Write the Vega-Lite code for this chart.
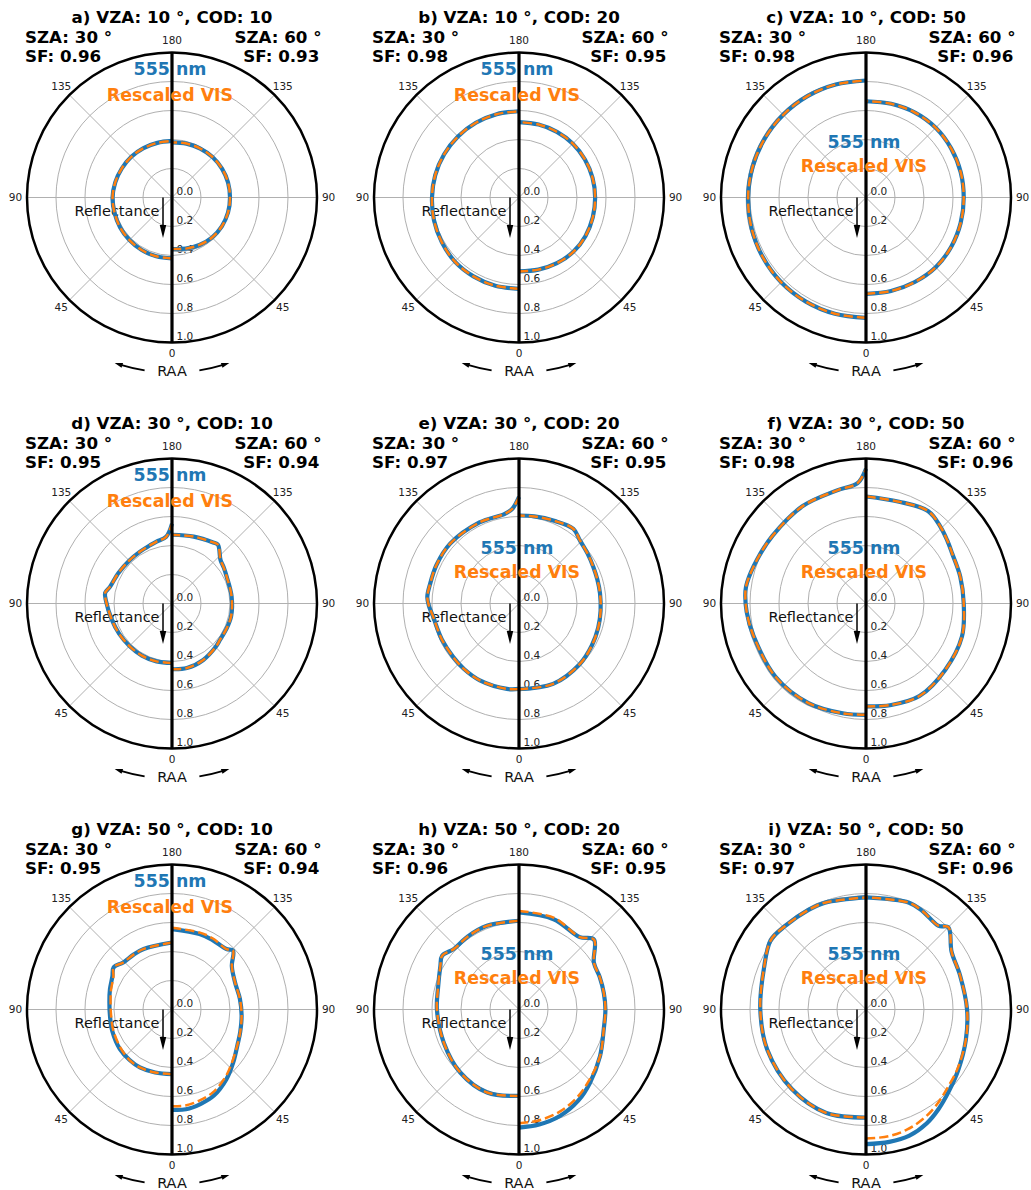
{
"$schema":"https://vega.github.io/schema/vega-lite/v6.json",
"padding":0,
"bounds":"flush",
"config":{"view":{"stroke":null},"font":"DejaVu Sans"},
"datasets":{"deco":[
{"k":"ring","r":0.2},{"k":"ring","r":0.4},{"k":"ring","r":0.6},{"k":"ring","r":0.8},
{"k":"frame","r":1},
{"k":"sp","a":45},{"k":"sp","a":90},{"k":"sp","a":135},
{"k":"al","s":1,"a":0},{"k":"al","s":-1,"a":45},{"k":"al","s":1,"a":45},{"k":"al","s":-1,"a":90},{"k":"al","s":1,"a":90},{"k":"al","s":-1,"a":135},{"k":"al","s":1,"a":135},{"k":"al","s":1,"a":180},
{"k":"rl","r":0},{"k":"rl","r":0.2},{"k":"rl","r":0.4},{"k":"rl","r":0.6},{"k":"rl","r":0.8},{"k":"rl","r":1},
{"k":"rh","s":-1},{"k":"rh","s":1}
]},
"data":{"values":[
{"p":"a","t":"a) VZA: 10 °, COD: 10","f1":"SF: 0.96","f2":"SF: 0.93","lg":"top"},
{"p":"b","t":"b) VZA: 10 °, COD: 20","f1":"SF: 0.98","f2":"SF: 0.95","lg":"top"},
{"p":"c","t":"c) VZA: 10 °, COD: 50","f1":"SF: 0.98","f2":"SF: 0.96","lg":"mid"},
{"p":"d","t":"d) VZA: 30 °, COD: 10","f1":"SF: 0.95","f2":"SF: 0.94","lg":"top"},
{"p":"e","t":"e) VZA: 30 °, COD: 20","f1":"SF: 0.97","f2":"SF: 0.95","lg":"mid"},
{"p":"f","t":"f) VZA: 30 °, COD: 50","f1":"SF: 0.98","f2":"SF: 0.96","lg":"mid"},
{"p":"g","t":"g) VZA: 50 °, COD: 10","f1":"SF: 0.95","f2":"SF: 0.94","lg":"top"},
{"p":"h","t":"h) VZA: 50 °, COD: 20","f1":"SF: 0.96","f2":"SF: 0.95","lg":"mid"},
{"p":"i","t":"i) VZA: 50 °, COD: 50","f1":"SF: 0.97","f2":"SF: 0.96","lg":"mid"},

{"p":"a","s":-1,"a":0,"b":0.42,"o":0.42,"g":0.424},
{"p":"a","s":-1,"a":15,"b":0.42,"o":0.42,"g":0.424},
{"p":"a","s":-1,"a":30,"b":0.418,"o":0.418,"g":0.422},
{"p":"a","s":-1,"a":45,"b":0.415,"o":0.415,"g":0.419},
{"p":"a","s":-1,"a":60,"b":0.413,"o":0.413,"g":0.417},
{"p":"a","s":-1,"a":75,"b":0.41,"o":0.41,"g":0.414},
{"p":"a","s":-1,"a":90,"b":0.41,"o":0.41,"g":0.414},
{"p":"a","s":-1,"a":105,"b":0.405,"o":0.405,"g":0.409},
{"p":"a","s":-1,"a":120,"b":0.4,"o":0.4,"g":0.404},
{"p":"a","s":-1,"a":135,"b":0.397,"o":0.397,"g":0.401},
{"p":"a","s":-1,"a":150,"b":0.393,"o":0.393,"g":0.397},
{"p":"a","s":-1,"a":165,"b":0.39,"o":0.39,"g":0.394},
{"p":"a","s":-1,"a":180,"b":0.39,"o":0.39,"g":0.394},
{"p":"a","s":1,"a":0,"b":0.355,"o":0.355,"g":0.37},
{"p":"a","s":1,"a":15,"b":0.365,"o":0.365,"g":0.38},
{"p":"a","s":1,"a":30,"b":0.378,"o":0.378,"g":0.392},
{"p":"a","s":1,"a":45,"b":0.39,"o":0.39,"g":0.402},
{"p":"a","s":1,"a":60,"b":0.397,"o":0.397,"g":0.401},
{"p":"a","s":1,"a":75,"b":0.4,"o":0.4,"g":0.404},
{"p":"a","s":1,"a":90,"b":0.4,"o":0.4,"g":0.404},
{"p":"a","s":1,"a":105,"b":0.4,"o":0.4,"g":0.404},
{"p":"a","s":1,"a":120,"b":0.398,"o":0.398,"g":0.402},
{"p":"a","s":1,"a":135,"b":0.395,"o":0.395,"g":0.399},
{"p":"a","s":1,"a":150,"b":0.39,"o":0.39,"g":0.394},
{"p":"a","s":1,"a":165,"b":0.385,"o":0.385,"g":0.389},
{"p":"a","s":1,"a":180,"b":0.38,"o":0.38,"g":0.384},

{"p":"b","s":-1,"a":0,"b":0.63,"o":0.63,"g":0.634},
{"p":"b","s":-1,"a":15,"b":0.63,"o":0.63,"g":0.634},
{"p":"b","s":-1,"a":30,"b":0.628,"o":0.628,"g":0.632},
{"p":"b","s":-1,"a":45,"b":0.625,"o":0.625,"g":0.629},
{"p":"b","s":-1,"a":60,"b":0.615,"o":0.615,"g":0.619},
{"p":"b","s":-1,"a":75,"b":0.607,"o":0.607,"g":0.611},
{"p":"b","s":-1,"a":90,"b":0.6,"o":0.6,"g":0.604},
{"p":"b","s":-1,"a":105,"b":0.598,"o":0.598,"g":0.602},
{"p":"b","s":-1,"a":120,"b":0.596,"o":0.596,"g":0.6},
{"p":"b","s":-1,"a":135,"b":0.595,"o":0.595,"g":0.599},
{"p":"b","s":-1,"a":150,"b":0.595,"o":0.595,"g":0.599},
{"p":"b","s":-1,"a":165,"b":0.595,"o":0.595,"g":0.599},
{"p":"b","s":-1,"a":180,"b":0.595,"o":0.595,"g":0.599},
{"p":"b","s":1,"a":0,"b":0.51,"o":0.51,"g":0.514},
{"p":"b","s":1,"a":15,"b":0.515,"o":0.515,"g":0.519},
{"p":"b","s":1,"a":30,"b":0.523,"o":0.523,"g":0.527},
{"p":"b","s":1,"a":45,"b":0.53,"o":0.53,"g":0.534},
{"p":"b","s":1,"a":60,"b":0.53,"o":0.53,"g":0.534},
{"p":"b","s":1,"a":75,"b":0.527,"o":0.527,"g":0.531},
{"p":"b","s":1,"a":90,"b":0.525,"o":0.525,"g":0.529},
{"p":"b","s":1,"a":105,"b":0.525,"o":0.525,"g":0.529},
{"p":"b","s":1,"a":120,"b":0.525,"o":0.525,"g":0.529},
{"p":"b","s":1,"a":135,"b":0.525,"o":0.525,"g":0.529},
{"p":"b","s":1,"a":150,"b":0.523,"o":0.523,"g":0.527},
{"p":"b","s":1,"a":165,"b":0.521,"o":0.521,"g":0.525},
{"p":"b","s":1,"a":180,"b":0.52,"o":0.52,"g":0.524},

{"p":"c","s":-1,"a":0,"b":0.83,"o":0.83,"g":0.834},
{"p":"c","s":-1,"a":15,"b":0.83,"o":0.83,"g":0.834},
{"p":"c","s":-1,"a":30,"b":0.829,"o":0.829,"g":0.833},
{"p":"c","s":-1,"a":45,"b":0.827,"o":0.827,"g":0.831},
{"p":"c","s":-1,"a":60,"b":0.822,"o":0.822,"g":0.826},
{"p":"c","s":-1,"a":75,"b":0.817,"o":0.817,"g":0.829},
{"p":"c","s":-1,"a":90,"b":0.813,"o":0.813,"g":0.825},
{"p":"c","s":-1,"a":105,"b":0.81,"o":0.81,"g":0.822},
{"p":"c","s":-1,"a":120,"b":0.808,"o":0.808,"g":0.82},
{"p":"c","s":-1,"a":135,"b":0.807,"o":0.807,"g":0.819},
{"p":"c","s":-1,"a":150,"b":0.807,"o":0.807,"g":0.819},
{"p":"c","s":-1,"a":165,"b":0.807,"o":0.807,"g":0.811},
{"p":"c","s":-1,"a":180,"b":0.807,"o":0.807,"g":0.811},
{"p":"c","s":1,"a":0,"b":0.664,"o":0.664,"g":0.668},
{"p":"c","s":1,"a":15,"b":0.667,"o":0.667,"g":0.671},
{"p":"c","s":1,"a":30,"b":0.673,"o":0.673,"g":0.677},
{"p":"c","s":1,"a":45,"b":0.68,"o":0.68,"g":0.684},
{"p":"c","s":1,"a":60,"b":0.679,"o":0.679,"g":0.683},
{"p":"c","s":1,"a":75,"b":0.676,"o":0.676,"g":0.68},
{"p":"c","s":1,"a":90,"b":0.674,"o":0.674,"g":0.678},
{"p":"c","s":1,"a":105,"b":0.676,"o":0.676,"g":0.68},
{"p":"c","s":1,"a":120,"b":0.678,"o":0.678,"g":0.682},
{"p":"c","s":1,"a":135,"b":0.68,"o":0.68,"g":0.684},
{"p":"c","s":1,"a":150,"b":0.676,"o":0.676,"g":0.68},
{"p":"c","s":1,"a":165,"b":0.669,"o":0.669,"g":0.673},
{"p":"c","s":1,"a":180,"b":0.664,"o":0.664,"g":0.668},

{"p":"d","s":-1,"a":0,"b":0.41,"o":0.41,"g":0.414},
{"p":"d","s":-1,"a":15,"b":0.413,"o":0.413,"g":0.417},
{"p":"d","s":-1,"a":30,"b":0.415,"o":0.415,"g":0.419},
{"p":"d","s":-1,"a":45,"b":0.415,"o":0.415,"g":0.419},
{"p":"d","s":-1,"a":60,"b":0.42,"o":0.42,"g":0.424},
{"p":"d","s":-1,"a":75,"b":0.43,"o":0.43,"g":0.434},
{"p":"d","s":-1,"a":92,"b":0.455,"o":0.455,"g":0.459},
{"p":"d","s":-1,"a":99,"b":0.467,"o":0.467,"g":0.471},
{"p":"d","s":-1,"a":105,"b":0.443,"o":0.443,"g":0.447},
{"p":"d","s":-1,"a":120,"b":0.425,"o":0.425,"g":0.429},
{"p":"d","s":-1,"a":135,"b":0.418,"o":0.418,"g":0.422},
{"p":"d","s":-1,"a":148,"b":0.42,"o":0.42,"g":0.424},
{"p":"d","s":-1,"a":160,"b":0.43,"o":0.43,"g":0.434},
{"p":"d","s":-1,"a":166,"b":0.44,"o":0.44,"g":0.444},
{"p":"d","s":-1,"a":175,"b":0.462,"o":0.462,"g":0.466},
{"p":"d","s":-1,"a":180,"b":0.55,"o":0.55,"g":0.554},
{"p":"d","s":1,"a":0,"b":0.453,"o":0.453,"g":0.457},
{"p":"d","s":1,"a":13,"b":0.457,"o":0.457,"g":0.461},
{"p":"d","s":1,"a":29,"b":0.445,"o":0.445,"g":0.449},
{"p":"d","s":1,"a":45,"b":0.425,"o":0.425,"g":0.429},
{"p":"d","s":1,"a":53,"b":0.415,"o":0.415,"g":0.419},
{"p":"d","s":1,"a":65,"b":0.414,"o":0.414,"g":0.418},
{"p":"d","s":1,"a":78,"b":0.417,"o":0.417,"g":0.421},
{"p":"d","s":1,"a":97,"b":0.414,"o":0.414,"g":0.418},
{"p":"d","s":1,"a":116,"b":0.42,"o":0.42,"g":0.424},
{"p":"d","s":1,"a":125,"b":0.435,"o":0.435,"g":0.439},
{"p":"d","s":1,"a":132,"b":0.45,"o":0.45,"g":0.454},
{"p":"d","s":1,"a":142,"b":0.515,"o":0.515,"g":0.519},
{"p":"d","s":1,"a":146,"b":0.508,"o":0.508,"g":0.512},
{"p":"d","s":1,"a":162,"b":0.485,"o":0.485,"g":0.489},
{"p":"d","s":1,"a":180,"b":0.474,"o":0.474,"g":0.478},

{"p":"e","s":-1,"a":0,"b":0.589,"o":0.589,"g":0.593},
{"p":"e","s":-1,"a":8,"b":0.595,"o":0.595,"g":0.599},
{"p":"e","s":-1,"a":27,"b":0.595,"o":0.595,"g":0.599},
{"p":"e","s":-1,"a":40,"b":0.59,"o":0.59,"g":0.594},
{"p":"e","s":-1,"a":51,"b":0.585,"o":0.585,"g":0.589},
{"p":"e","s":-1,"a":65,"b":0.587,"o":0.587,"g":0.591},
{"p":"e","s":-1,"a":74,"b":0.59,"o":0.59,"g":0.594},
{"p":"e","s":-1,"a":81,"b":0.598,"o":0.598,"g":0.602},
{"p":"e","s":-1,"a":88,"b":0.62,"o":0.62,"g":0.624},
{"p":"e","s":-1,"a":94,"b":0.634,"o":0.634,"g":0.638},
{"p":"e","s":-1,"a":102,"b":0.628,"o":0.628,"g":0.632},
{"p":"e","s":-1,"a":115,"b":0.628,"o":0.628,"g":0.632},
{"p":"e","s":-1,"a":131,"b":0.629,"o":0.629,"g":0.633},
{"p":"e","s":-1,"a":154,"b":0.622,"o":0.622,"g":0.626},
{"p":"e","s":-1,"a":171,"b":0.626,"o":0.626,"g":0.63},
{"p":"e","s":-1,"a":176,"b":0.655,"o":0.655,"g":0.659},
{"p":"e","s":-1,"a":180,"b":0.735,"o":0.735,"g":0.739},
{"p":"e","s":1,"a":0,"b":0.591,"o":0.591,"g":0.595},
{"p":"e","s":1,"a":23,"b":0.602,"o":0.602,"g":0.606},
{"p":"e","s":1,"a":45,"b":0.592,"o":0.592,"g":0.596},
{"p":"e","s":1,"a":60,"b":0.58,"o":0.58,"g":0.584},
{"p":"e","s":1,"a":73,"b":0.571,"o":0.571,"g":0.575},
{"p":"e","s":1,"a":85,"b":0.565,"o":0.565,"g":0.569},
{"p":"e","s":1,"a":97,"b":0.563,"o":0.563,"g":0.567},
{"p":"e","s":1,"a":107,"b":0.565,"o":0.565,"g":0.569},
{"p":"e","s":1,"a":116,"b":0.571,"o":0.571,"g":0.575},
{"p":"e","s":1,"a":126,"b":0.585,"o":0.585,"g":0.589},
{"p":"e","s":1,"a":136,"b":0.605,"o":0.605,"g":0.609},
{"p":"e","s":1,"a":144,"b":0.637,"o":0.637,"g":0.641},
{"p":"e","s":1,"a":157,"b":0.62,"o":0.62,"g":0.624},
{"p":"e","s":1,"a":170,"b":0.61,"o":0.61,"g":0.614},
{"p":"e","s":1,"a":180,"b":0.607,"o":0.607,"g":0.611},

{"p":"f","s":-1,"a":0,"b":0.768,"o":0.768,"g":0.772},
{"p":"f","s":-1,"a":12,"b":0.774,"o":0.774,"g":0.778},
{"p":"f","s":-1,"a":30,"b":0.793,"o":0.793,"g":0.808},
{"p":"f","s":-1,"a":51,"b":0.803,"o":0.803,"g":0.818},
{"p":"f","s":-1,"a":74,"b":0.807,"o":0.807,"g":0.82},
{"p":"f","s":-1,"a":86,"b":0.825,"o":0.825,"g":0.829},
{"p":"f","s":-1,"a":96,"b":0.836,"o":0.836,"g":0.84},
{"p":"f","s":-1,"a":100,"b":0.833,"o":0.833,"g":0.837},
{"p":"f","s":-1,"a":112,"b":0.81,"o":0.81,"g":0.814},
{"p":"f","s":-1,"a":126,"b":0.796,"o":0.796,"g":0.8},
{"p":"f","s":-1,"a":147,"b":0.801,"o":0.801,"g":0.805},
{"p":"f","s":-1,"a":166,"b":0.806,"o":0.806,"g":0.81},
{"p":"f","s":-1,"a":176,"b":0.832,"o":0.832,"g":0.836},
{"p":"f","s":-1,"a":180,"b":0.93,"o":0.93,"g":0.934},
{"p":"f","s":1,"a":0,"b":0.71,"o":0.71,"g":0.714},
{"p":"f","s":1,"a":14,"b":0.721,"o":0.721,"g":0.725},
{"p":"f","s":1,"a":30,"b":0.737,"o":0.737,"g":0.741},
{"p":"f","s":1,"a":50,"b":0.713,"o":0.713,"g":0.717},
{"p":"f","s":1,"a":71,"b":0.7,"o":0.7,"g":0.704},
{"p":"f","s":1,"a":90,"b":0.674,"o":0.674,"g":0.678},
{"p":"f","s":1,"a":106,"b":0.676,"o":0.676,"g":0.68},
{"p":"f","s":1,"a":120,"b":0.687,"o":0.687,"g":0.691},
{"p":"f","s":1,"a":128,"b":0.71,"o":0.71,"g":0.714},
{"p":"f","s":1,"a":136,"b":0.738,"o":0.738,"g":0.742},
{"p":"f","s":1,"a":146,"b":0.768,"o":0.768,"g":0.772},
{"p":"f","s":1,"a":162,"b":0.738,"o":0.738,"g":0.742},
{"p":"f","s":1,"a":180,"b":0.738,"o":0.738,"g":0.742},

{"p":"g","s":-1,"a":0,"b":0.446,"o":0.446,"g":0.45},
{"p":"g","s":-1,"a":15,"b":0.45,"o":0.45,"g":0.454},
{"p":"g","s":-1,"a":29,"b":0.457,"o":0.457,"g":0.461},
{"p":"g","s":-1,"a":40,"b":0.455,"o":0.455,"g":0.459},
{"p":"g","s":-1,"a":53,"b":0.451,"o":0.443,"g":0.455},
{"p":"g","s":-1,"a":70,"b":0.438,"o":0.43,"g":0.442},
{"p":"g","s":-1,"a":84,"b":0.43,"o":0.422,"g":0.434},
{"p":"g","s":-1,"a":97,"b":0.435,"o":0.427,"g":0.439},
{"p":"g","s":-1,"a":108,"b":0.45,"o":0.442,"g":0.454},
{"p":"g","s":-1,"a":119,"b":0.47,"o":0.462,"g":0.474},
{"p":"g","s":-1,"a":126,"b":0.497,"o":0.497,"g":0.501},
{"p":"g","s":-1,"a":134,"b":0.467,"o":0.467,"g":0.471},
{"p":"g","s":-1,"a":145,"b":0.462,"o":0.462,"g":0.466},
{"p":"g","s":-1,"a":155,"b":0.461,"o":0.461,"g":0.465},
{"p":"g","s":-1,"a":180,"b":0.462,"o":0.462,"g":0.466},
{"p":"g","s":1,"a":0,"b":0.692,"o":0.667,"g":0.696},
{"p":"g","s":1,"a":8,"b":0.695,"o":0.668,"g":0.699},
{"p":"g","s":1,"a":17,"b":0.68,"o":0.655,"g":0.684},
{"p":"g","s":1,"a":26,"b":0.66,"o":0.638,"g":0.664},
{"p":"g","s":1,"a":38,"b":0.61,"o":0.595,"g":0.614},
{"p":"g","s":1,"a":49,"b":0.559,"o":0.55,"g":0.563},
{"p":"g","s":1,"a":63,"b":0.51,"o":0.51,"g":0.514},
{"p":"g","s":1,"a":72,"b":0.495,"o":0.495,"g":0.499},
{"p":"g","s":1,"a":85,"b":0.482,"o":0.482,"g":0.486},
{"p":"g","s":1,"a":99,"b":0.474,"o":0.474,"g":0.478},
{"p":"g","s":1,"a":113,"b":0.473,"o":0.473,"g":0.477},
{"p":"g","s":1,"a":126,"b":0.51,"o":0.51,"g":0.514},
{"p":"g","s":1,"a":134,"b":0.585,"o":0.585,"g":0.589},
{"p":"g","s":1,"a":138,"b":0.561,"o":0.561,"g":0.565},
{"p":"g","s":1,"a":150,"b":0.555,"o":0.565,"g":0.559},
{"p":"g","s":1,"a":160,"b":0.554,"o":0.564,"g":0.558},
{"p":"g","s":1,"a":180,"b":0.554,"o":0.564,"g":0.558},

{"p":"h","s":-1,"a":0,"b":0.596,"o":0.596,"g":0.6},
{"p":"h","s":-1,"a":21,"b":0.613,"o":0.613,"g":0.617},
{"p":"h","s":-1,"a":43,"b":0.594,"o":0.594,"g":0.598},
{"p":"h","s":-1,"a":66,"b":0.567,"o":0.567,"g":0.571},
{"p":"h","s":-1,"a":90,"b":0.566,"o":0.566,"g":0.57},
{"p":"h","s":-1,"a":105,"b":0.578,"o":0.578,"g":0.582},
{"p":"h","s":-1,"a":119,"b":0.62,"o":0.62,"g":0.624},
{"p":"h","s":-1,"a":125,"b":0.647,"o":0.647,"g":0.651},
{"p":"h","s":-1,"a":133,"b":0.613,"o":0.613,"g":0.617},
{"p":"h","s":-1,"a":145,"b":0.615,"o":0.615,"g":0.619},
{"p":"h","s":-1,"a":159,"b":0.618,"o":0.618,"g":0.622},
{"p":"h","s":-1,"a":180,"b":0.612,"o":0.612,"g":0.616},
{"p":"h","s":1,"a":0,"b":0.814,"o":0.785,"g":0.818},
{"p":"h","s":1,"a":10,"b":0.805,"o":0.777,"g":0.809},
{"p":"h","s":1,"a":21,"b":0.787,"o":0.76,"g":0.791},
{"p":"h","s":1,"a":33,"b":0.75,"o":0.728,"g":0.754},
{"p":"h","s":1,"a":44,"b":0.704,"o":0.69,"g":0.708},
{"p":"h","s":1,"a":60,"b":0.645,"o":0.645,"g":0.649},
{"p":"h","s":1,"a":77,"b":0.6,"o":0.6,"g":0.604},
{"p":"h","s":1,"a":90,"b":0.596,"o":0.596,"g":0.6},
{"p":"h","s":1,"a":101,"b":0.596,"o":0.596,"g":0.6},
{"p":"h","s":1,"a":112,"b":0.6,"o":0.6,"g":0.604},
{"p":"h","s":1,"a":122,"b":0.609,"o":0.609,"g":0.613},
{"p":"h","s":1,"a":133,"b":0.707,"o":0.707,"g":0.711},
{"p":"h","s":1,"a":140,"b":0.652,"o":0.652,"g":0.656},
{"p":"h","s":1,"a":159,"b":0.667,"o":0.677,"g":0.671},
{"p":"h","s":1,"a":180,"b":0.669,"o":0.68,"g":0.673},

{"p":"i","s":-1,"a":0,"b":0.745,"o":0.745,"g":0.749},
{"p":"i","s":-1,"a":21,"b":0.764,"o":0.764,"g":0.768},
{"p":"i","s":-1,"a":43,"b":0.75,"o":0.75,"g":0.754},
{"p":"i","s":-1,"a":68,"b":0.735,"o":0.735,"g":0.739},
{"p":"i","s":-1,"a":90,"b":0.729,"o":0.729,"g":0.733},
{"p":"i","s":-1,"a":112,"b":0.759,"o":0.759,"g":0.763},
{"p":"i","s":-1,"a":126,"b":0.812,"o":0.812,"g":0.824},
{"p":"i","s":-1,"a":136,"b":0.801,"o":0.801,"g":0.813},
{"p":"i","s":-1,"a":150,"b":0.793,"o":0.793,"g":0.805},
{"p":"i","s":-1,"a":159,"b":0.789,"o":0.789,"g":0.801},
{"p":"i","s":-1,"a":180,"b":0.773,"o":0.773,"g":0.785},
{"p":"i","s":1,"a":0,"b":0.929,"o":0.89,"g":0.933},
{"p":"i","s":1,"a":10,"b":0.927,"o":0.888,"g":0.931},
{"p":"i","s":1,"a":19,"b":0.92,"o":0.875,"g":0.924},
{"p":"i","s":1,"a":28,"b":0.89,"o":0.85,"g":0.894},
{"p":"i","s":1,"a":36,"b":0.85,"o":0.82,"g":0.854},
{"p":"i","s":1,"a":46,"b":0.8,"o":0.78,"g":0.804},
{"p":"i","s":1,"a":57,"b":0.76,"o":0.752,"g":0.764},
{"p":"i","s":1,"a":73,"b":0.72,"o":0.72,"g":0.724},
{"p":"i","s":1,"a":90,"b":0.697,"o":0.697,"g":0.701},
{"p":"i","s":1,"a":110,"b":0.69,"o":0.69,"g":0.694},
{"p":"i","s":1,"a":124,"b":0.712,"o":0.712,"g":0.716},
{"p":"i","s":1,"a":135,"b":0.803,"o":0.803,"g":0.807},
{"p":"i","s":1,"a":139,"b":0.764,"o":0.764,"g":0.768},
{"p":"i","s":1,"a":150,"b":0.782,"o":0.782,"g":0.786},
{"p":"i","s":1,"a":158,"b":0.794,"o":0.794,"g":0.798},
{"p":"i","s":1,"a":180,"b":0.773,"o":0.773,"g":0.777}
]},
"transform":[
 {"calculate":"floor(indexof('abcdefghi',datum.p)/3)","as":"prow"},
 {"calculate":"indexof('abcdefghi',datum.p)%3","as":"pcol"}
],
"facet":{
 "row":{"field":"prow","type":"ordinal","title":null,"header":null},
 "column":{"field":"pcol","type":"ordinal","title":null,"header":null}
},
"spacing":{"row":29,"column":17},
"spec":{
"width":330,"height":377,
"layer":[
{"data":{"name":"deco"},"transform":[{"filter":"datum.k=='ring'"}],
 "mark":{"type":"arc","filled":false,"stroke":"#b0b0b0","strokeWidth":1},
 "encoding":{
  "x":{"datum":0,"type":"quantitative","axis":null,"scale":{"domain":[-1.1862,1.0897],"nice":false,"zero":false}},
  "y":{"datum":0,"type":"quantitative","axis":null,"scale":{"domain":[-1.2379,1.3621],"nice":false,"zero":false}},
  "radius":{"field":"r","type":"quantitative","stack":null,"scale":{"type":"linear","domain":[0,1],"range":[0,145],"zero":true,"nice":false}}}},
{"data":{"name":"deco"},"transform":[{"filter":"datum.k=='sp'"},{"calculate":"sin(datum.a*PI/180)","as":"sx"},{"calculate":"cos(datum.a*PI/180)","as":"cy"},{"calculate":"-datum.sx","as":"nx"},{"calculate":"-datum.cy","as":"ny"}],
 "mark":{"type":"rule","color":"#b0b0b0","strokeWidth":1},
 "encoding":{"x":{"field":"nx","type":"quantitative","axis":null},"y":{"field":"ny","type":"quantitative","axis":null},"x2":{"field":"sx"},"y2":{"field":"cy"}}},
{"data":{"name":"deco"},"transform":[{"filter":"datum.k=='rl'"},{"calculate":"-datum.r","as":"ny"}],
 "mark":{"type":"text","align":"left","baseline":"middle","dx":4.5,"dy":-5.5,"fontSize":10.5,"color":"#222222"},
 "encoding":{"x":{"datum":0,"type":"quantitative","axis":null},"y":{"field":"ny","type":"quantitative","axis":null},"text":{"field":"r","type":"quantitative","format":".1f"}}},
{"transform":[{"filter":"isValid(datum.t)"}],
 "mark":{"type":"text","text":"Reflectance","align":"right","baseline":"middle","fontSize":14.5,"color":"#111111"},
 "encoding":{"x":{"datum":-0.086,"type":"quantitative","axis":null},"y":{"datum":-0.098,"type":"quantitative","axis":null}}},
{"transform":[{"filter":"isValid(datum.t)"}],
 "mark":{"type":"rule","color":"#000000","strokeWidth":1.5},
 "encoding":{"x":{"datum":-0.062,"type":"quantitative","axis":null},"y":{"datum":0,"type":"quantitative","axis":null},"y2":{"datum":-0.197}}},
{"transform":[{"filter":"isValid(datum.t)"}],
 "mark":{"type":"point","shape":"M-0.5,-1L0.5,-1L0,1Z","size":169,"filled":true,"color":"#000000","opacity":1},
 "encoding":{"x":{"datum":-0.062,"type":"quantitative","axis":null},"y":{"datum":-0.234,"type":"quantitative","axis":null}}},
{"transform":[{"filter":"isValid(datum.a)"},{"fold":["g","b","o"],"as":["ser","r"]},{"calculate":"datum.s*datum.r*sin(datum.a*PI/180)","as":"cx"},{"calculate":"-datum.r*cos(datum.a*PI/180)","as":"cy"}],
 "encoding":{"x":{"field":"cx","type":"quantitative","axis":null},"y":{"field":"cy","type":"quantitative","axis":null},"order":{"field":"a","type":"quantitative"},"detail":{"field":"s","type":"nominal"}},
 "layer":[
  {"transform":[{"filter":"datum.ser=='g'"}],"mark":{"type":"line","color":"#a8a8a8","strokeWidth":1.2,"interpolate":"catmull-rom"}},
  {"transform":[{"filter":"datum.ser=='b'"}],"mark":{"type":"line","color":"#1f77b4","strokeWidth":4.2,"strokeJoin":"round","interpolate":"catmull-rom"}},
  {"transform":[{"filter":"datum.ser=='o'"}],"mark":{"type":"line","color":"#ff7f0e","strokeWidth":2.5,"strokeDash":[9.25,4],"interpolate":"catmull-rom"}}
 ]},
{"transform":[{"filter":"isValid(datum.t)"}],
 "mark":{"type":"rule","color":"#000000","strokeWidth":3.2},
 "encoding":{"x":{"datum":0,"type":"quantitative","axis":null},"y":{"datum":-1,"type":"quantitative","axis":null},"y2":{"datum":1}}},
{"data":{"name":"deco"},"transform":[{"filter":"datum.k=='frame'"}],
 "mark":{"type":"arc","filled":false,"stroke":"#000000","strokeWidth":2.5},
 "encoding":{"x":{"datum":0,"type":"quantitative","axis":null},"y":{"datum":0,"type":"quantitative","axis":null},"radius":{"field":"r","type":"quantitative","stack":null}}},
{"data":{"name":"deco"},"transform":[{"filter":"datum.k=='al'"},{"calculate":"datum.s*1.08*sin(datum.a*PI/180)","as":"lx"},{"calculate":"-1.08*cos(datum.a*PI/180)","as":"ly"}],
 "mark":{"type":"text","fontSize":10.5,"color":"#222222","baseline":"middle","align":"center"},
 "encoding":{"x":{"field":"lx","type":"quantitative","axis":null},"y":{"field":"ly","type":"quantitative","axis":null},"text":{"field":"a","type":"quantitative","format":"d"}}},
{"transform":[{"filter":"isValid(datum.t)"}],
 "mark":{"type":"text","text":"RAA","align":"center","baseline":"middle","fontSize":14.5,"color":"#111111"},
 "encoding":{"x":{"datum":0,"type":"quantitative","axis":null},"y":{"datum":-1.201,"type":"quantitative","axis":null}}},
{"transform":[{"filter":"isValid(datum.t)"}],
 "mark":{"type":"arc","theta":3.2987,"theta2":3.4383,"filled":false,"stroke":"#000000","strokeWidth":2},
 "encoding":{"x":{"datum":0,"type":"quantitative","axis":null},"y":{"datum":0,"type":"quantitative","axis":null},"radius":{"datum":1.207,"type":"quantitative"},"radius2":{"datum":1.207}}},
{"transform":[{"filter":"isValid(datum.t)"}],
 "mark":{"type":"arc","theta":2.8449,"theta2":2.9845,"filled":false,"stroke":"#000000","strokeWidth":2},
 "encoding":{"x":{"datum":0,"type":"quantitative","axis":null},"y":{"datum":0,"type":"quantitative","axis":null},"radius":{"datum":1.207,"type":"quantitative"},"radius2":{"datum":1.207}}},
{"data":{"name":"deco"},"transform":[{"filter":"datum.k=='rh'"},{"calculate":"datum.s*1.207*sin(17.8*PI/180)","as":"hx"},{"calculate":"-1.207*cos(17.8*PI/180)","as":"hy"}],
 "mark":{"type":"point","shape":"M-1,0L1,-0.65L1,0.65Z","size":64,"filled":true,"color":"#000000","opacity":1},
 "encoding":{"x":{"field":"hx","type":"quantitative","axis":null},"y":{"field":"hy","type":"quantitative","axis":null},"angle":{"field":"s","type":"quantitative","scale":{"domain":[-1,1],"range":[17.8,162.2]},"legend":null}}},
{"transform":[{"filter":"isValid(datum.t)"}],
 "mark":{"type":"text","align":"center","baseline":"middle","fontSize":16.7,"fontWeight":"bold","color":"#000000"},
 "encoding":{"x":{"datum":0,"type":"quantitative","axis":null},"y":{"datum":1.236,"type":"quantitative","axis":null},"text":{"field":"t"}}},
{"transform":[{"filter":"isValid(datum.t)"}],
 "mark":{"type":"text","text":"SZA: 30 °","align":"left","baseline":"middle","fontSize":16.7,"fontWeight":"bold","color":"#000000"},
 "encoding":{"x":{"datum":-1.014,"type":"quantitative","axis":null},"y":{"datum":1.102,"type":"quantitative","axis":null}}},
{"transform":[{"filter":"isValid(datum.t)"}],
 "mark":{"type":"text","align":"left","baseline":"middle","fontSize":16.7,"fontWeight":"bold","color":"#000000"},
 "encoding":{"x":{"datum":-1.014,"type":"quantitative","axis":null},"y":{"datum":0.971,"type":"quantitative","axis":null},"text":{"field":"f1"}}},
{"transform":[{"filter":"isValid(datum.t)"}],
 "mark":{"type":"text","text":"SZA: 60 °","align":"right","baseline":"middle","fontSize":16.7,"fontWeight":"bold","color":"#000000"},
 "encoding":{"x":{"datum":1.032,"type":"quantitative","axis":null},"y":{"datum":1.102,"type":"quantitative","axis":null}}},
{"transform":[{"filter":"isValid(datum.t)"}],
 "mark":{"type":"text","align":"right","baseline":"middle","fontSize":16.7,"fontWeight":"bold","color":"#000000"},
 "encoding":{"x":{"datum":1.016,"type":"quantitative","axis":null},"y":{"datum":0.971,"type":"quantitative","axis":null},"text":{"field":"f2"}}},
{"transform":[{"filter":"datum.lg=='top'"}],
 "mark":{"type":"text","text":"555 nm","align":"center","baseline":"middle","fontSize":17.4,"fontWeight":"bold","color":"#1f77b4"},
 "encoding":{"x":{"datum":-0.014,"type":"quantitative","axis":null},"y":{"datum":0.882,"type":"quantitative","axis":null}}},
{"transform":[{"filter":"datum.lg=='top'"}],
 "mark":{"type":"text","text":"Rescaled VIS","align":"center","baseline":"middle","fontSize":17.4,"fontWeight":"bold","color":"#ff7f0e"},
 "encoding":{"x":{"datum":-0.014,"type":"quantitative","axis":null},"y":{"datum":0.703,"type":"quantitative","axis":null}}},
{"transform":[{"filter":"datum.lg=='mid'"}],
 "mark":{"type":"text","text":"555 nm","align":"center","baseline":"middle","fontSize":17.4,"fontWeight":"bold","color":"#1f77b4"},
 "encoding":{"x":{"datum":-0.014,"type":"quantitative","axis":null},"y":{"datum":0.375,"type":"quantitative","axis":null}}},
{"transform":[{"filter":"datum.lg=='mid'"}],
 "mark":{"type":"text","text":"Rescaled VIS","align":"center","baseline":"middle","fontSize":17.4,"fontWeight":"bold","color":"#ff7f0e"},
 "encoding":{"x":{"datum":-0.014,"type":"quantitative","axis":null},"y":{"datum":0.21,"type":"quantitative","axis":null}}}
]}
}
